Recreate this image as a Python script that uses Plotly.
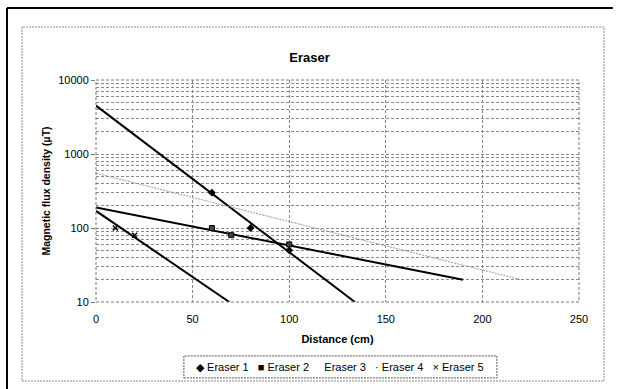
import plotly.graph_objects as go

# ---- data ----
e1_x = [60, 80, 100]
e1_y = [300, 100, 50]
e2_x = [60, 70, 100]
e2_y = [100, 80, 60]
e5_x = [10, 20]
e5_y = [100, 80]

# trend lines (end points)
t1_x = [0, 134];  t1_y = [4500, 10]
t2_x = [0, 190];  t2_y = [190, 20]
t4_x = [0, 220];  t4_y = [550, 20]
t5_x = [0, 69];   t5_y = [170, 10]

x_ticks = [0, 50, 100, 150, 200, 250]
y_major = [10, 100, 1000, 10000]
y_minor = [m * d for d in [10, 100, 1000] for m in range(2, 10)]
legend_names = ["Eraser 1", "Eraser 2", "Eraser 3", "Eraser 4", "Eraser 5"]
legend_syms = ["◆", "■", " ", "·", "×"]

FONT = "Liberation Sans, Arial, sans-serif"

fig = go.Figure()

for tx, ty in [(t1_x, t1_y), (t2_x, t2_y), (t5_x, t5_y)]:
    fig.add_trace(go.Scatter(x=tx, y=ty, mode="lines", showlegend=False,
                             line=dict(color="black", width=2), hoverinfo="skip"))
fig.add_trace(go.Scatter(x=t4_x, y=t4_y, mode="lines", showlegend=False,
                         line=dict(color="#9a9a9a", width=1, dash="2px,1px"), hoverinfo="skip"))

fig.add_trace(go.Scatter(x=e1_x, y=e1_y, mode="markers", name="Eraser 1", showlegend=False,
                         marker=dict(symbol="diamond", size=6, color="black")))
fig.add_trace(go.Scatter(x=e2_x, y=e2_y, mode="markers", name="Eraser 2", showlegend=False,
                         marker=dict(symbol="square", size=5, color="#444",
                                     line=dict(color="black", width=1))))
fig.add_trace(go.Scatter(x=e5_x, y=e5_y, mode="markers", name="Eraser 5", showlegend=False,
                         marker=dict(symbol="x-thin", size=5, color="black",
                                     line=dict(color="black", width=1.5))))

GRID = dict(showgrid=True, gridcolor="#8a8a8a", griddash="3px,2px", gridwidth=1)

legend_text = "   ".join(
    (f"{s} {n}" if s.strip() else f"  {n}") for s, n in zip(legend_syms, legend_names)
)

fig.update_layout(
    width=619, height=389,
    margin=dict(l=96, r=40, t=80, b=87),
    paper_bgcolor="white", plot_bgcolor="white",
    font=dict(family=FONT, size=11, color="black"),
    showlegend=False,
    title=dict(text="<b>Eraser</b>", x=0.5, xanchor="center", y=0.853, yanchor="middle",
               font=dict(size=13, family=FONT)),
    xaxis=dict(range=[0, 250], tickvals=x_ticks, zeroline=False, showline=False,
               ticks="", tickfont=dict(size=11), ticklabelstandoff=9,
               title=dict(text="<b>Distance (cm)</b>", font=dict(size=11), standoff=11),
               **GRID),
    yaxis=dict(type="log", range=[1, 4], tickvals=y_major,
               ticktext=[str(v) for v in y_major], zeroline=False, showline=False,
               ticks="outside", ticklen=4, tickcolor="#777",
               tickfont=dict(size=11),
               title=dict(text="<b>Magnetic flux density (µT)</b>", font=dict(size=10.5),
                          standoff=5),
               minor=dict(tickvals=y_minor, ticks="", **GRID),
               **GRID),
    annotations=[
        dict(text=legend_text, xref="paper", yref="paper", x=0.506, y=-0.293,
             xanchor="center", yanchor="middle", showarrow=False,
             font=dict(size=11, family=FONT)),
    ],
    shapes=[
        dict(type="rect", xref="paper", yref="paper", x0=0, x1=1, y0=0, y1=1,
             line=dict(color="#777", width=1, dash="3px,2px")),
        dict(type="rect", xref="paper", yref="paper", x0=-0.1532, x1=1.0518,
             y0=-0.3559, y1=1.2387, line=dict(color="#888", width=1, dash="2px,1px")),
        dict(type="rect", xref="paper", yref="paper", x0=0.182, x1=0.830,
             y0=-0.342, y1=-0.243, line=dict(color="#555", width=1, dash="2px,1px")),
        dict(type="line", xref="paper", yref="paper", x0=-0.1843, x1=1.07,
             y0=1.3243, y1=1.3243, line=dict(color="black", width=2)),
        dict(type="line", xref="paper", yref="paper", x0=-0.1843, x1=-0.1843,
             y0=-0.45, y1=1.3243, line=dict(color="black", width=2)),
    ],
)

fig.write_html("out.html")
